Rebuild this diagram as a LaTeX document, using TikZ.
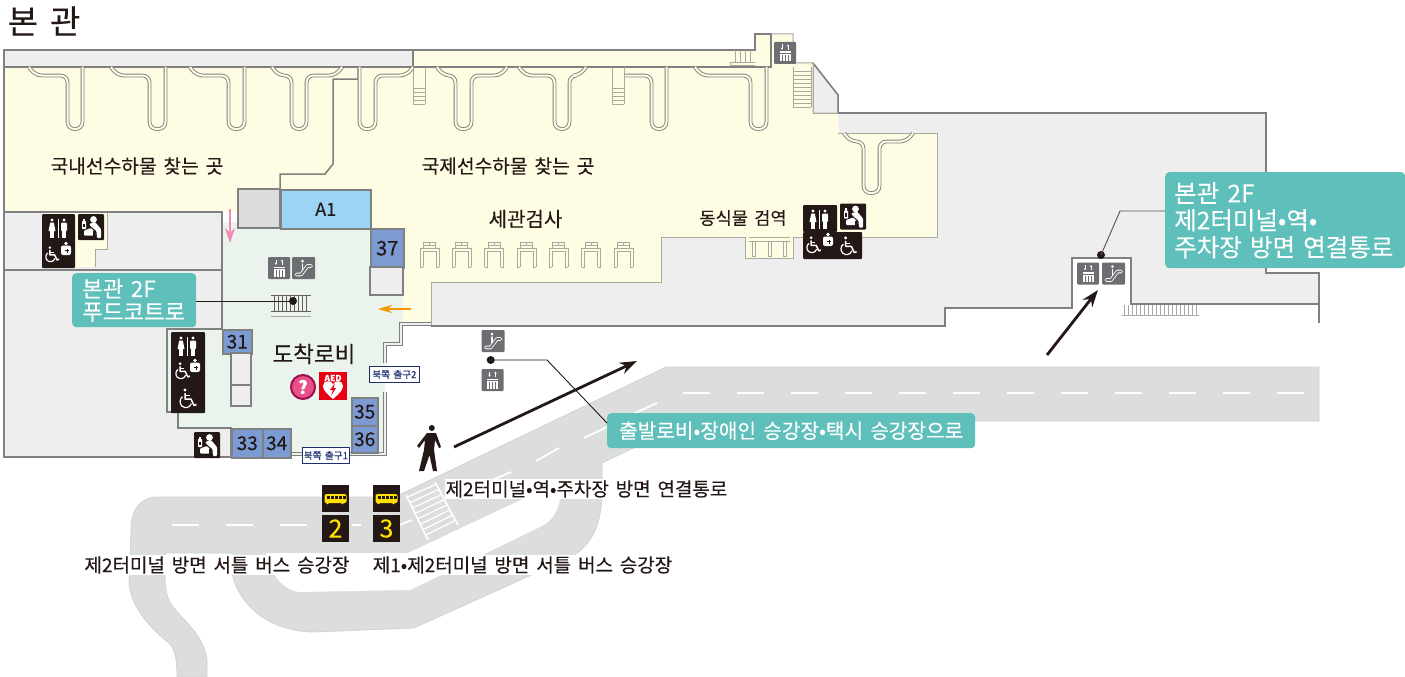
\documentclass[tikz,border=0pt]{standalone}
\usepackage{fontspec}
\setmainfont[WordSpace=1.6,FakeBold=.2]{Noto Sans CJK KR}
\usetikzlibrary{arrows.meta,calc}
\definecolor{ink}{HTML}{231815}
\definecolor{wallc}{HTML}{808080}
\definecolor{softw}{HTML}{A9A9A2}
\definecolor{paper}{HTML}{EEEEEF}
\definecolor{pale}{HTML}{FFFCE4}
\definecolor{lobby}{HTML}{EAF3EC}
\definecolor{roadc}{HTML}{DCDDDD}
\definecolor{roade}{HTML}{D2D3D3}
\definecolor{sky}{HTML}{9BD4F5}
\definecolor{slot}{HTML}{7B9BD2}
\definecolor{teal}{HTML}{5FC0BB}
\definecolor{signg}{HTML}{6D6E71}
\definecolor{navy}{HTML}{1D2F6F}
\definecolor{pinkar}{HTML}{F08AB8}
\definecolor{orangear}{HTML}{F39800}
\definecolor{busy}{HTML}{FFE100}
\definecolor{helpf}{HTML}{E8508A}
\definecolor{helpd}{HTML}{9C0F4F}
\definecolor{aedred}{HTML}{E60012}
\tikzset{
 x=1pt,y=-1pt,
 wall/.style={draw=wallc,line width=1.5pt},
 softwall/.style={draw=softw,line width=1pt},
 dwall/.style={draw=wallc,line width=1.1pt,double=paper,double distance=2.6pt},
 jet/.style={draw=wallc,line width=.9pt,double=pale,double distance=2pt,rounded corners=7pt},
 thinl/.style={draw=softw,line width=.7pt},
 lab/.style={font=\fontsize{19}{22}\selectfont,text=ink,fill=white,inner sep=1pt},
 plainlab/.style={font=\fontsize{19.2}{22}\selectfont,text=ink,inner sep=0pt},
 slotbox/.style={draw=wallc,line width=1.5pt,fill=slot,minimum width=#1,inner sep=0pt,anchor=north west,text=ink,font=\fontsize{20}{22}\selectfont},
 tealbox/.style={fill=teal,rounded corners=4pt,text=white,inner sep=0pt,anchor=north west},
 exitbox/.style={draw=navy,line width=.8pt,fill=white,text=navy,font=\fontsize{9.6}{12}\selectfont,inner sep=0pt,anchor=north west},
 leader/.style={draw=ink,line width=.9pt},
 bigarrow/.style={draw=ink,line width=2.8pt,-{Stealth[length=17pt,width=12pt]}},
 dashw/.style={draw=white,line width=1.8pt},
 elevpic/.pic={
  \fill[signg,rounded corners=1pt] (0,0) rectangle (22,22);
  \draw[white,line width=.8pt,-{Stealth[length=2.2pt,width=2.6pt]}] (8,2.5)--(8,7.8);
  \draw[white,line width=.8pt,-{Stealth[length=2.2pt,width=2.6pt]}] (14,7.8)--(14,2.5);
  \fill[white] (5.5,9.5) rectangle (16.5,19.5);
  \foreach \q in {8,11,14}{\draw[signg,line width=.9pt] (\q,13)--(\q,19.5);}
  \draw[signg,line width=.6pt] (5.5,11.5)--(16.5,11.5);
 },
 escpic/.pic={
  \fill[signg,rounded corners=1pt] (0,0) rectangle (23,22);
  \draw[white,line width=3.6pt,line cap=round,line join=round] (4.5,17.5)--(9,17.5)--(15.5,9)--(19,9);
  \draw[signg,line width=1.9pt,line cap=round,line join=round] (4.5,17.5)--(9,17.5)--(15.5,9)--(19,9);
  \fill[white] (10.5,4.2) circle (1.5);
  \draw[white,line width=1.5pt,line cap=round] (10.5,7)--(10.5,12.5);
 },
 couplepic/.pic={
  \fill[white] (8,3) circle (1.7);
  \fill[white] (6.2,5.5)--(9.8,5.5)--(11.5,14)--(4.5,14)--cycle;
  \draw[white,line width=1.2pt] (7,14)--(7,20.5) (9,14)--(9,20.5);
  \draw[white,line width=1pt] (14,2)--(14,21);
  \fill[white] (20,3) circle (1.7);
  \fill[white,rounded corners=1pt] (17,5.5) rectangle (23,14);
  \draw[white,line width=2pt] (19,13)--(19,21) (21.2,13)--(21.2,21);
 },
 wheelpic/.pic={
  \fill[white] (6,2) circle (1.7);
  \draw[white,line width=1.5pt,line join=round] (6,5)--(6,11)--(12,11)--(15,17.5)--(17.5,16.5);
  \draw[white,line width=1.2pt] (6,7.8)--(11,7.8);
  \draw[white,line width=1.2pt] (3.6,8.7) .. controls (0.5,10.5) and (0.3,15.5) .. (2.8,18) .. controls (6,20.8) and (11,19.8) .. (12.4,15.6);
 },
 ostpic/.pic={
  \fill[white] (5,1.5) circle (1.8);
  \fill[white,rounded corners=2pt] (0,3.5) rectangle (10,13);
  \draw[ink,line width=.9pt] (4,8.5)--(8,8.5) (6,6.5)--(6,10.5);
 },
 babypic/.pic={
  \fill[ink,rounded corners=1pt] (0,0) rectangle (26,26);
  \fill[white,rounded corners=.6pt] (4,7) rectangle (8,15);
  \fill[white] (5.2,4.5) rectangle (6.8,7);
  \fill[ink] (5.2,9.5) rectangle (6.8,13);
  \fill[white] (15.5,5.5) circle (3.4);
  \fill[white,rounded corners=1pt] (11,10)--(17,8)--(23,15)--(23,24)--(19,24)--(18.5,17)--(14,13.5)--cycle;
  \fill[white,rounded corners=1pt] (6,16.5)--(13,14)--(17,18)--(17,21.5)--(6,21.5)--cycle;
  \fill[ink] (14.5,17) rectangle (17,24);
 },
 buspic/.pic={
  \fill[busy,rounded corners=1.5pt] (0,0) rectangle (22,9);
  \foreach \q in {2,6,10,14,18}{\fill[ink] (\q,2) rectangle +(3,3);}
  \fill[busy] (3,9) circle (1.4);
  \fill[busy] (18,9) circle (1.4);
 },
}
\begin{document}
\begin{tikzpicture}
\useasboundingbox (0,0) rectangle (1405,677);
\fill[white] (0,0) rectangle (1405,677);

% ---------- road
\filldraw[fill=roadc,draw=roade,line width=.8pt]
 (1319,367)--(666,367)--(395,497)--(158,497)
 .. controls (140,497) and (131,510) .. (131,530)
 --(129,583) .. controls (130,600) and (142,622) .. (169,643)
 .. controls (175,650) and (177,658) .. (177,677)
 --(207,677)--(207,660)
 .. controls (205,645) and (198,634) .. (182,617)
 .. controls (170,605) and (165,598) .. (165,575)
 --(165,553)--(232,553)--(232,573)
 .. controls (240,610) and (275,632) .. (314,632)
 --(414,628)--(571,557)
 .. controls (592,545) and (602,525) .. (602,490)
 --(602,463)--(690,421)--(1319,421)--cycle;
\fill[white] (262,553)--(408,553)--(561,481)--(561,490)
 .. controls (560,510) and (552,522) .. (540,527)
 --(410,590)--(299,592)
 .. controls (285,590) and (272,578) .. (266,553)--cycle;
\foreach \q in {683,737,791,845,899,953,1007,1061,1115,1169,1223,1277}{
 \draw[dashw] (\q,393)--(\q+27,393);}
\foreach \q in {172,226,280}{\draw[dashw] (\q,525)--(\q+27,525);}
\draw[dashw] (352,525)--(361,525);
\draw[dashw] (657,403)--(633,414);
\draw[dashw] (607,427)--(584,438);
\draw[dashw] (559,448)--(536,461);
\draw[dashw] (511,472)--(488,482);
\draw[dashw] (412,520)--(400,525);
% crosswalk
\foreach \t in {.05,.17,...,1}{
 \draw[white,line width=1.3pt] ($(406,495)+\t*(22,45)$)--($(435,482)+\t*(23,43)$);}
\draw[white,line width=1.6pt] (406,495)--(428,540);
\draw[white,line width=1.6pt] (435,482)--(458,525);

% ---------- floor areas
\fill[pale] (4,67)--(413,67)--(413,50)--(755,50)--(755,34)--(793,34)--(793,63)--(813,63)--(813,113)--(838,113)--(838,133)--(937,133)--(937,237)--(793,237)--(793,258)--(745,258)--(745,237)--(661,237)--(661,282)--(431,282)--(431,324)--(403,324)--(403,228)--(238,228)--(238,212)--(4,212)--cycle;
\filldraw[fill=paper,draw=softw,line width=1pt] (813,63)--(838,95)--(838,113)--(813,113)--cycle;
\fill[lobby] (222,222)--(238,222)--(238,228)--(403,228)--(403,324)--(401,344)--(385,344)--(385,456)--(231,456)--(231,428)--(178,428)--(178,412)--(167,412)--(167,329)--(222,329)--cycle;
\fill[paper] (838,113)--(1266,113)--(1266,273)--(1319,273)--(1319,304)--(1131,304)--(1131,258)--(1072,258)--(1072,308)--(945,308)--(945,326)--(431,326)--(431,282)--(661,282)--(661,237)--(745,237)--(745,258)--(793,258)--(793,237)--(937,237)--(937,133)--(839,133)--cycle;
\draw[softwall] (838,133)--(937,133)--(937,237)--(793,237)--(793,258)--(745,258)--(745,237)--(661,237)--(661,282)--(431,282)--(431,326);
\draw[wall] (838,113)--(1266,113)--(1266,273)--(1319,273)--(1319,323);
\draw[wall] (1319,304)--(1131,304)--(1131,258)--(1072,258)--(1072,308)--(945,308)--(945,326)--(431,326);
% left block
\fill[paper] (4,212)--(222,212)--(222,329)--(167,329)--(167,412)--(178,412)--(178,428)--(231,428)--(231,457)--(4,457)--cycle;
\fill[pale] (42,212)--(107,212)--(107,249)--(95,249)--(95,267)--(42,267)--cycle;
\draw[softwall] (107,212)--(107,249)--(95,249)--(95,267);
\draw[wall] (4,67)--(4,457)--(290,457);
\draw[wall] (4,212)--(222,212)--(222,329)--(167,329)--(167,412)--(178,412)--(178,428)--(231,428)--(231,457);
\draw[wall] (4,270)--(222,270);
% top bar
\filldraw[fill=paper,draw=wallc,line width=1.5pt] (4,50) rectangle (413,67);
\draw[wall] (413,50)--(755,50)--(755,34)--(771,34)--(771,67)--(413,67);
\draw[softwall] (771,34)--(793,34)--(793,63)--(813,63)--(838,95)--(838,113);
\draw[wall] (813,63)--(838,95)--(838,113);
\draw[softwall] (813,63)--(813,113)--(838,113);
\draw[wall] (358,67)--(358,79)--(333,79)--(333,164)--(325,174)--(280,174)--(280,189);
% double walls
\draw[dwall] (431,324)--(401,324)--(401,344)--(385,344)--(385,363);
\draw[dwall] (290,454)--(303,454);
\draw[dwall] (349,454)--(385,454)--(385,392);

% ---------- jetways
\foreach \a/\b/\c in {29/67.5/82.5,111/149.5/165.5,190/228.5/244.5}{
 \draw[jet] (\a,67)--(\a+6,75.5)--(\b,75.5)--(\b,129)--(\c,129)--(\c,67);}
\foreach \a/\b/\c/\d in {272/291.5/306.5/342,437/455.5/471.5/507,519/554.5/569.5/586}{
 \draw[jet] (\a,67)--(\a+6,75.5)--(\b,75.5)--(\b,129)--(\c,129)--(\c,75.5)--(\d-6,75.5)--(\d,67);}
\draw[jet] (359.5,67)--(359.5,129)--(375.5,129)--(375.5,75.5)--(407,75.5)--(413,67);
\draw[jet] (624,75.5)--(651.5,75.5)--(651.5,129)--(666.5,129)--(666.5,67);
\draw[jet] (695,67)--(701,75.5)--(750.5,75.5)--(750.5,129)--(766.5,129)--(766.5,67);
\draw[jet] (844,133)--(850,141.5)--(863.5,141.5)--(863.5,193)--(879.5,193)--(879.5,141.5)--(907,141.5)--(913,133);

% ---------- stairs
\foreach \q in {413,612}{
 \draw[thinl,line width=1pt] (\q,67)--(\q,104) (\q+12,67)--(\q+12,104);
 \foreach \r in {88,92,96,100,104}{\draw[thinl] (\q,\r)--(\q+12,\r);}}
\draw[thinl] (793,67)--(793,107) (811,67)--(811,107);
\foreach \r in {71,75,...,107}{\draw[thinl] (793,\r)--(811,\r);}
\foreach \q in {735,740,745,750}{\draw[thinl] (\q,50)--(\q,62);}
\draw[thinl] (730,62)--(755,62) (730,65)--(755,65) (730,62)--(730,65);
\foreach \q in {274,278,...,308}{\draw[ink!70,line width=.6pt] (\q,295)--(\q,311);}
\draw[ink!70,line width=.6pt] (271,295)--(311,295) (271,311)--(311,311);
\draw[softw,line width=.8pt] (271,316)--(311,316);
\foreach \q in {1124,1128,...,1196}{\draw[softw,line width=.7pt] (\q,305)--(\q,315);}
\draw[softw,line width=.8pt] (1122,315)--(1199,315);

% ---------- gates
\foreach \q in {420,452.3,484.6,517,549.3,581.6,613.9}{
 \draw[thinl,line width=.8pt] (\q,267)--(\q,248)--(\q+19,248)--(\q+19,267) (\q+3,267)--(\q+3,251)--(\q+16,251)--(\q+16,267);
 \draw[thinl,line width=.8pt] (\q,267)--(\q+3,267) (\q+16,267)--(\q+19,267);
 \draw[thinl,line width=.8pt] (\q+3.5,248)--(\q+3.5,242)--(\q+15.5,242)--(\q+15.5,248) (\q+3.5,245)--(\q+15.5,245) (\q+9.5,242)--(\q+9.5,245);
}
\draw[thinl,line width=.8pt] (749,237)--(790,237)  (749,241)--(790,241);
\foreach \q in {752,768,783}{\draw[thinl,line width=.8pt] (\q,241) rectangle (\q+3,256);}

% ---------- lobby blocks
\filldraw[fill=roadc,draw=wallc,line width=1.5pt] (238,189) rectangle (280,228);
\node[slotbox=90pt,minimum height=39pt,fill=sky,font=\fontsize{18}{22}\selectfont] (a1) at (280,189) {A1};
\node[slotbox=33pt,minimum height=39pt] (s37) at (370,228) {37};
\filldraw[fill=paper,draw=wallc,line width=1.5pt] (370,267) rectangle (403,295);
\node[slotbox=29pt,minimum height=24pt,font=\fontsize{19}{22}\selectfont] (s31) at (222,329) {31};
\filldraw[fill=paper,draw=wallc,line width=1.5pt] (231,353) rectangle (251,385);
\filldraw[fill=paper,draw=wallc,line width=1.5pt] (231,385) rectangle (251,406);
\node[slotbox=31pt,minimum height=29pt,font=\fontsize{19}{22}\selectfont] (s33) at (231,428) {33};
\node[slotbox=28pt,minimum height=29pt,font=\fontsize{19}{22}\selectfont] (s34) at (262,428) {34};
\node[slotbox=26pt,minimum height=28pt,font=\fontsize{19}{22}\selectfont] (s35) at (351,397) {35};
\node[slotbox=26pt,minimum height=27pt,font=\fontsize{19}{22}\selectfont] (s36) at (351,425) {36};

% ---------- signs
\pic at (268,257) {elevpic};
\pic at (292,257) {escpic};
\pic at (1077,262.5) {elevpic};
\pic at (1102,262.5) {escpic};
\pic at (774,42) {elevpic};
\pic at (481.5,330) {escpic};
\pic at (481.5,369) {elevpic};
% upper left
\fill[ink,rounded corners=1pt] (42,214) rectangle (75,268);
\pic at (44,217) {couplepic};
\pic[scale=.8] at (45,246) {wheelpic};
\pic at (61,242) {ostpic};
\pic at (78,214) {babypic};
% middle
\fill[ink,rounded corners=1pt] (171,332) rectangle (205,413);
\pic at (173,335) {couplepic};
\pic[scale=.85] at (175,362) {wheelpic};
\pic at (190,359) {ostpic};
\pic at (179,388) {wheelpic};
\pic at (194,432) {babypic};
% right
\fill[ink,rounded corners=1pt] (803,205) rectangle (837,232);
\fill[ink,rounded corners=1pt] (803,232) rectangle (862,259);
\pic at (805,208) {couplepic};
\pic[scale=.85] at (806,236) {wheelpic};
\pic at (823,233) {ostpic};
\pic[scale=.95] at (840,236) {wheelpic};
\filldraw[fill=pale,draw=pale,line width=1pt] (839,203) rectangle (867,230);
\pic at (840,203.5) {babypic};
% help / AED
\node[circle,fill=helpf,draw=helpd,line width=2pt,minimum size=24pt,inner sep=0pt,text=white,font=\fontsize{18}{20}\selectfont\bfseries] (help) at (303,387) {?};
\node[fill=aedred,minimum width=28pt,minimum height=28pt,inner sep=0pt] (aedsq) at (333,386) {};
\node[text=white,font=\fontsize{8.5}{9}\selectfont\bfseries,inner sep=0pt] (aedt) at (333,378) {AED};
\fill[white] (333,399) .. controls (327,394) and (323,390) .. (323,386)
 .. controls (323,380) and (331,380) .. (333,384)
 .. controls (335,380) and (343,380) .. (343,386)
 .. controls (343,390) and (339,394) .. (333,399)--cycle;
\fill[aedred] (335,383)--(330,390)--(333,390)--(331,396)--(336,388)--(333.5,388)--cycle;
% walker
\fill[ink] (431.8,428) circle (3);
\fill[ink] (427,433)--(436,433)--(441,447)--(439,448)--(435,440)--(434,450)--(437,471)--(433,471)--(429.5,455)--(424,471)--(419,471)--(424,450)--(425,440)--(419,448)--(417,446)--cycle;
% buses
\fill[ink] (322,485) rectangle (349,512);
\fill[ink] (373,485) rectangle (400,512);
\pic at (324.5,494) {buspic};
\pic at (375.5,494) {buspic};
\node[fill=ink,text=busy,minimum width=27pt,minimum height=27pt,inner sep=0pt,font=\fontsize{25}{26}\selectfont] (n2) at (335.5,528.5) {2};
\node[fill=ink,text=busy,minimum width=27pt,minimum height=27pt,inner sep=0pt,font=\fontsize{25}{26}\selectfont] (n3) at (386.5,528.5) {3};

% ---------- arrows
\coordinate (pinka) at (230,209);\coordinate (pinkb) at (230,243);
\draw[pinkar,line width=2pt,-{Stealth[length=15pt,width=10pt]}] (pinka)--(pinkb);
\coordinate (oa) at (411,309);\coordinate (ob) at (378,309);
\draw[orangear,line width=2pt,-{Stealth[length=14pt,width=8pt]}] (oa)--(ob);
\coordinate (wa) at (454,447);\coordinate (wb) at (637,361);
\draw[bigarrow] (wa)--(wb);
\coordinate (ra) at (1047,355);\coordinate (rb) at (1098,290);
\draw[bigarrow] (ra)--(rb);

% ---------- labels
\node[font=\fontsize{33}{34}\selectfont,text=ink,inner sep=0pt] (title) at (44,21) {본 관};
\node[plainlab] (dom) at (137,166) {국내선수하물 찾는 곳};
\node[plainlab] (intl) at (508,166) {국제선수하물 찾는 곳};
\node[plainlab,font=\fontsize{20}{22}\selectfont] (cust) at (525.5,219) {세관검사};
\node[plainlab,font=\fontsize{17.6}{20}\selectfont] (quar) at (743,218) {동식물 검역};
\node[plainlab,font=\fontsize{22.5}{26}\selectfont] (arr) at (314,354) {도착로비};
\node[exitbox,minimum width=47pt,minimum height=16pt] (ex1) at (302,447) {북쪽 출구1};
\node[exitbox,minimum width=50pt,minimum height=16pt] (ex2) at (369,366) {북쪽 출구2};
\node[lab] (conn) at (586.5,489) {제2터미널•역•주차장 방면 연결통로};
\node[lab] (b2) at (217,565) {제2터미널 방면 서틀 버스 승강장};
\node[lab] (b3) at (522.5,565) {제1•제2터미널 방면 서틀 버스 승강장};

\node[tealbox,minimum width=124pt,minimum height=54pt,align=left,font=\fontsize{22.4}{23}\selectfont,text width=104pt] (tfood) at (72,273) {본관 2F\\푸드코트로};
\node[tealbox,minimum width=240pt,minimum height=96pt,align=left,font=\fontsize{24.5}{27}\selectfont,text width=222pt] (tconn) at (1165,172) {본관 2F\\제2터미널•역•\\주차장 방면 연결통로};
\node[tealbox,minimum width=368pt,minimum height=35pt,font=\fontsize{20.2}{22}\selectfont] (tdep) at (607,413) {출발로비•장애인 승강장•택시 승강장으로};

% ---------- leaders
\coordinate (d1) at (293,301);
\fill[ink] (d1) circle (4);
\draw[leader] (tfood.east|-d1)--(d1);
\coordinate (d2) at (1101,255);\coordinate (k2) at (1120,211);
\fill[ink] (d2) circle (4);
\draw[leader,draw=ink!75] (tconn.west|-k2)--(k2)--(d2);
\coordinate (d3) at (490.7,360);\coordinate (k3) at (547,360);\coordinate (e3) at (607,423);
\fill[ink] (d3) circle (4);
\draw[leader] (d3)--(k3)--(e3);
\end{tikzpicture}
\end{document}
